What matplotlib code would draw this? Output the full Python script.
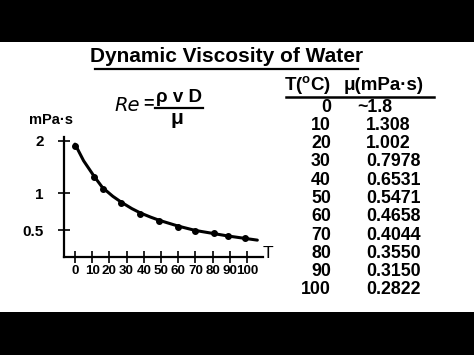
import numpy as np
import matplotlib
matplotlib.use("Agg")
import matplotlib.pyplot as plt
from matplotlib.patches import Rectangle
from matplotlib.lines import Line2D

# ---------------- data ----------------
title = "Dynamic Viscosity of Water"
# hand-drawn dots as they appear on the chart
dot_T = [0, 11, 16, 27, 38, 49, 60, 70, 81, 89, 99]
dot_mu = [1.89, 1.27, 1.06, 0.85, 0.69, 0.61, 0.54, 0.49, 0.47, 0.43, 0.41]
# hand-drawn curve as it appears on the chart
curve_T = [0, 5, 11, 16, 22, 27, 33, 38, 44, 49, 60, 70, 81, 89, 99, 106]
curve_mu = [1.93, 1.58, 1.29, 1.09, 0.95, 0.86, 0.77, 0.71, 0.655, 0.615,
            0.545, 0.495, 0.46, 0.435, 0.41, 0.393]
x_ticks = [0, 10, 20, 30, 40, 50, 60, 70, 80, 90, 100]
y_ticks = [0.5, 1, 2]
y_tick_labels = ["0.5", "1", "2"]
# table
table_T = ["0", "10", "20", "30", "40", "50", "60", "70", "80", "90", "100"]
table_mu = ["~1.8", "1.308", "1.002", "0.7978", "0.6531", "0.5471", "0.4658",
            "0.4044", "0.3550", "0.3150", "0.2822"]

# ---------------- fonts ----------------
base = "Liberation Sans"
plt.rcParams["font.family"] = [base, "DejaVu Sans"]
plt.rcParams["mathtext.fontset"] = "custom"
plt.rcParams["mathtext.rm"] = base + ":bold"
plt.rcParams["mathtext.it"] = base + ":italic"
plt.rcParams["mathtext.bf"] = base + ":bold"

W, H = 474, 355
fig = plt.figure(figsize=(W / 100, H / 100), dpi=100)
fig.patch.set_facecolor("white")

def fx(px):
    return px / W

def fy(py):
    return 1 - py / H

# black letterbox bars
fig.add_artist(Rectangle((0, fy(42)), 1, 42 / H, transform=fig.transFigure,
                         facecolor="black", edgecolor="none", zorder=0))
fig.add_artist(Rectangle((0, 0), 1, fy(312), transform=fig.transFigure,
                         facecolor="black", edgecolor="none", zorder=0))

# ---------------- axes ----------------
ax = fig.add_axes([fx(64), fy(257), fx(263) - fx(64), fy(137) - fy(257)])
ax.set_facecolor("none")
ax.set_yscale("function", functions=(np.sqrt, np.square))
ax.set_xlim(-6.4, 109.3)
ax.set_ylim(0.243, 2.09)
for s in ["top", "right"]:
    ax.spines[s].set_visible(False)
for s in ["left", "bottom"]:
    ax.spines[s].set_linewidth(1.6)
ax.plot(curve_T, curve_mu, color="black", lw=2.2, solid_capstyle="round",
        solid_joinstyle="round", zorder=3)
ax.plot(dot_T, dot_mu, "o", color="black", ms=4.0, zorder=4)
ax.set_xticks(x_ticks)
ax.set_xticklabels([str(t) for t in x_ticks], fontsize=9.6, fontweight="bold")
ax.set_yticks(y_ticks)
ax.set_yticklabels(y_tick_labels, fontsize=11, fontweight="bold")
ax.minorticks_off()
ax.tick_params(axis="x", direction="inout", length=8, width=1.2, pad=2)
ax.tick_params(axis="y", direction="inout", length=9, width=1.2, pad=10)

fig.text(fx(268), fy(253), "T", fontsize=12.5, ha="center", va="center")
fig.text(fx(51), fy(120), "mPa·s", fontsize=10.5, fontweight="bold",
         ha="center", va="center")

# ---------------- title ----------------
fig.text(fx(227), fy(56), title, fontsize=15, fontweight="bold",
         ha="center", va="center")
fig.add_artist(Line2D([fx(95), fx(358)], [fy(69), fy(69)],
                      transform=fig.transFigure, color="black", lw=1.6))

# ---------------- Reynolds formula ----------------
fig.text(fx(127), fy(105), "Re", fontsize=14, style="italic",
         family=["DejaVu Sans"], ha="center", va="center")
fig.text(fx(148), fy(104), "=", fontsize=13, fontweight="bold",
         ha="center", va="center")
fig.text(fx(179), fy(97), "ρ v D", fontsize=13.5, fontweight="bold",
         ha="center", va="center")
fig.add_artist(Line2D([fx(155), fx(203)], [fy(108), fy(108)],
                      transform=fig.transFigure, color="black", lw=1.6))
fig.text(fx(177), fy(118), "μ", fontsize=15, fontweight="bold",
         ha="center", va="center")

# ---------------- table ----------------
fig.text(fx(331), fy(85), r"T($^{\mathrm{o}}$C)", fontsize=13.5,
         fontweight="bold", ha="right", va="center")
fig.text(fx(344), fy(85), "μ(mPa·s)", fontsize=13.5, fontweight="bold",
         ha="left", va="center")
fig.add_artist(Line2D([fx(286), fx(434)], [fy(97), fy(97)],
                      transform=fig.transFigure, color="black", lw=1.8))
row0, row_step = 107, 18.3
for i, (t, m) in enumerate(zip(table_T, table_mu)):
    y = fy(row0 + i * row_step)
    fig.text(fx(331), y, t, fontsize=12.8, fontweight="bold",
             ha="right", va="center")
    xm = 357 if m.startswith("~") else 366
    fig.text(fx(xm), y, m, fontsize=12.8, fontweight="bold",
             ha="left", va="center")

fig.savefig("out.png", dpi=100)
